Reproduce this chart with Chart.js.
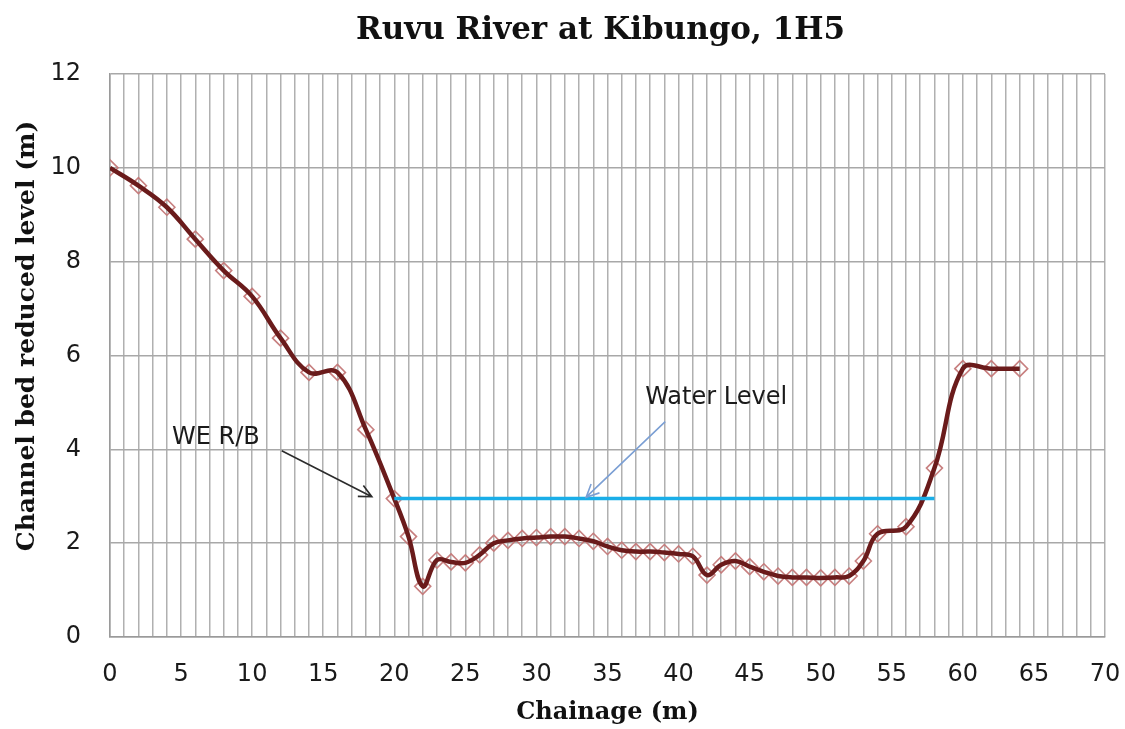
<!DOCTYPE html>
<html>
<head>
<meta charset="utf-8">
<script src="https://cdn.jsdelivr.net/npm/chart.js@4.4.1/dist/chart.umd.min.js"></script>
<style>
  html, body { margin: 0; padding: 0; background: #ffffff; }
  #wrap { position: relative; width: 1125px; height: 729px; }
  #title {
    position: absolute; left: 103px; width: 995px; top: 8px;
    text-align: center; font-family: "DejaVu Serif", serif; font-weight: bold;
    font-size: 31px; line-height: 40px; color: #111; white-space: nowrap;
  }
  #ytitle {
    position: absolute; left: 26px; top: 336px; width: 600px; height: 30px;
    margin-left: -300px; margin-top: -15px; transform: rotate(-90deg);
    text-align: center; font-family: "DejaVu Serif", serif; font-weight: bold;
    font-size: 25px; line-height: 30px; color: #111; white-space: nowrap;
  }
</style>
</head>
<body>
<div id="wrap">
  <canvas id="c" width="1125" height="729"></canvas>
  <div id="title"></div>
  <div id="ytitle"></div>
</div>
<script>
// ---- data ----
const chartTitle = 'Ruvu River at Kibungo, 1H5';
const xAxisTitle = 'Chainage (m)';
const yAxisTitle = 'Channel bed reduced level (m)';

const chainage = [0, 2, 4, 6, 8, 10, 12, 14, 16, 18, 20, 21, 22, 23, 24, 25, 26, 27, 28, 29,
  30, 31, 32, 33, 34, 35, 36, 37, 38, 39, 40, 41, 42, 43, 44, 45, 46, 47, 48, 49,
  50, 51, 52, 53, 54, 56, 58, 60, 62, 64];
const bedLevel = [10.0, 9.62, 9.16, 8.48, 7.81, 7.26, 6.37, 5.64, 5.64, 4.42, 2.95, 2.14, 1.08, 1.64, 1.6, 1.58, 1.75, 2.0, 2.06, 2.1,
  2.12, 2.14, 2.14, 2.1, 2.04, 1.93, 1.85, 1.82, 1.82, 1.8, 1.77, 1.72, 1.32, 1.54, 1.62, 1.5, 1.39, 1.3, 1.27, 1.27,
  1.26, 1.27, 1.3, 1.62, 2.2, 2.35, 3.6, 5.72, 5.72, 5.72];

const waterChainage = [20, 58];
const waterLevel = [2.95, 2.95];

const xTickMin = 0, xTickMax = 70, xLabelEvery = 5;
const yTickMin = 0, yTickMax = 12, yTickStep = 2;

// annotations (text + arrows), in data units
const notes = [
  { text: 'WE R/B', x: 4.36, y: 4.25, from: [12.08, 3.97], to: [18.42, 2.99], color: '#2b2b2b' },
  { text: 'Water Level', x: 37.65, y: 5.09, from: [39.06, 4.59], to: [33.5, 2.98], color: '#7b9fd4' }
];

document.getElementById('title').textContent = chartTitle;
document.getElementById('ytitle').textContent = yAxisTitle;

const bedPoints = chainage.map((c, i) => ({ x: c, y: bedLevel[i] }));
const waterPoints = waterChainage.map((c, i) => ({ x: c, y: waterLevel[i] }));

const notesPlugin = {
  id: 'notes',
  afterDatasetsDraw(chart) {
    const { ctx, scales } = chart;
    const xs = scales.x, ys = scales.y;
    ctx.save();
    notes.forEach(n => {
      ctx.fillStyle = '#1a1a1a';
      ctx.font = '24px "DejaVu Sans"';
      ctx.textAlign = 'left';
      ctx.textBaseline = 'middle';
      ctx.fillText(n.text, xs.getPixelForValue(n.x), ys.getPixelForValue(n.y));
      const x1 = xs.getPixelForValue(n.from[0]), y1 = ys.getPixelForValue(n.from[1]);
      const x2 = xs.getPixelForValue(n.to[0]), y2 = ys.getPixelForValue(n.to[1]);
      ctx.strokeStyle = n.color;
      ctx.lineWidth = 1.6;
      ctx.beginPath();
      ctx.moveTo(x1, y1);
      ctx.lineTo(x2, y2);
      const a = Math.atan2(y2 - y1, x2 - x1);
      const L = 14, s = 0.45;
      ctx.moveTo(x2 - L * Math.cos(a - s), y2 - L * Math.sin(a - s));
      ctx.lineTo(x2, y2);
      ctx.lineTo(x2 - L * Math.cos(a + s), y2 - L * Math.sin(a + s));
      ctx.stroke();
    });
    ctx.restore();
  }
};

new Chart(document.getElementById('c'), {
  type: 'scatter',
  data: {
    datasets: [
      {
        label: 'Markers',
        data: bedPoints,
        showLine: false,
        pointStyle: 'rectRot',
        pointRadius: 8,
        pointBorderWidth: 1.6,
        pointBorderColor: 'rgba(196,120,120,0.95)',
        pointBackgroundColor: 'rgba(255,255,255,0)',
        order: 3
      },
      {
        label: 'Bed level',
        data: bedPoints,
        showLine: true,
        borderColor: '#6a1b1b',
        borderWidth: 4.5,
        tension: 0.4,
        pointRadius: 0,
        fill: false,
        order: 2
      },
      {
        label: 'Water level',
        data: waterPoints,
        showLine: true,
        borderColor: '#1aaee8',
        borderWidth: 3.5,
        pointRadius: 0,
        tension: 0,
        fill: false,
        order: 1
      }
    ]
  },
  options: {
    responsive: false,
    animation: false,
    layout: { padding: { left: 0, right: 20, top: 74, bottom: 0 } },
    plugins: {
      legend: { display: false },
      tooltip: { enabled: false },
      title: { display: false }
    },
    scales: {
      x: {
        type: 'linear',
        min: xTickMin,
        max: xTickMax,
        afterFit(scale) { scale.height = 92; scale.paddingLeft = 0; scale.paddingRight = 0; },
        grid: { color: '#b0b0b0', lineWidth: 1.5, drawTicks: false },
        border: { color: '#9a9a9a', width: 1.5 },
        ticks: {
          stepSize: 1,
          autoSkip: false,
          maxRotation: 0,
          padding: 23,
          color: '#1a1a1a',
          font: { family: '"DejaVu Sans"', size: 24 },
          callback: v => (v % xLabelEvery === 0 ? String(v) : '')
        },
        title: {
          display: true,
          text: xAxisTitle,
          color: '#111',
          font: { family: '"DejaVu Serif"', size: 24, weight: 'bold' },
          padding: { top: 0, bottom: 2 }
        }
      },
      y: {
        min: yTickMin,
        max: yTickMax,
        afterFit(scale) { scale.width = 110; scale.paddingTop = 0; scale.paddingBottom = 0; },
        grid: { color: '#a8a8a8', lineWidth: 1.5, drawTicks: false },
        border: { color: '#9a9a9a', width: 1.5 },
        ticks: {
          stepSize: yTickStep,
          padding: 29,
          color: '#1a1a1a',
          font: { family: '"DejaVu Sans"', size: 24 }
        },
        title: { display: false }
      }
    }
  },
  plugins: [notesPlugin]
});
</script>
</body>
</html>
